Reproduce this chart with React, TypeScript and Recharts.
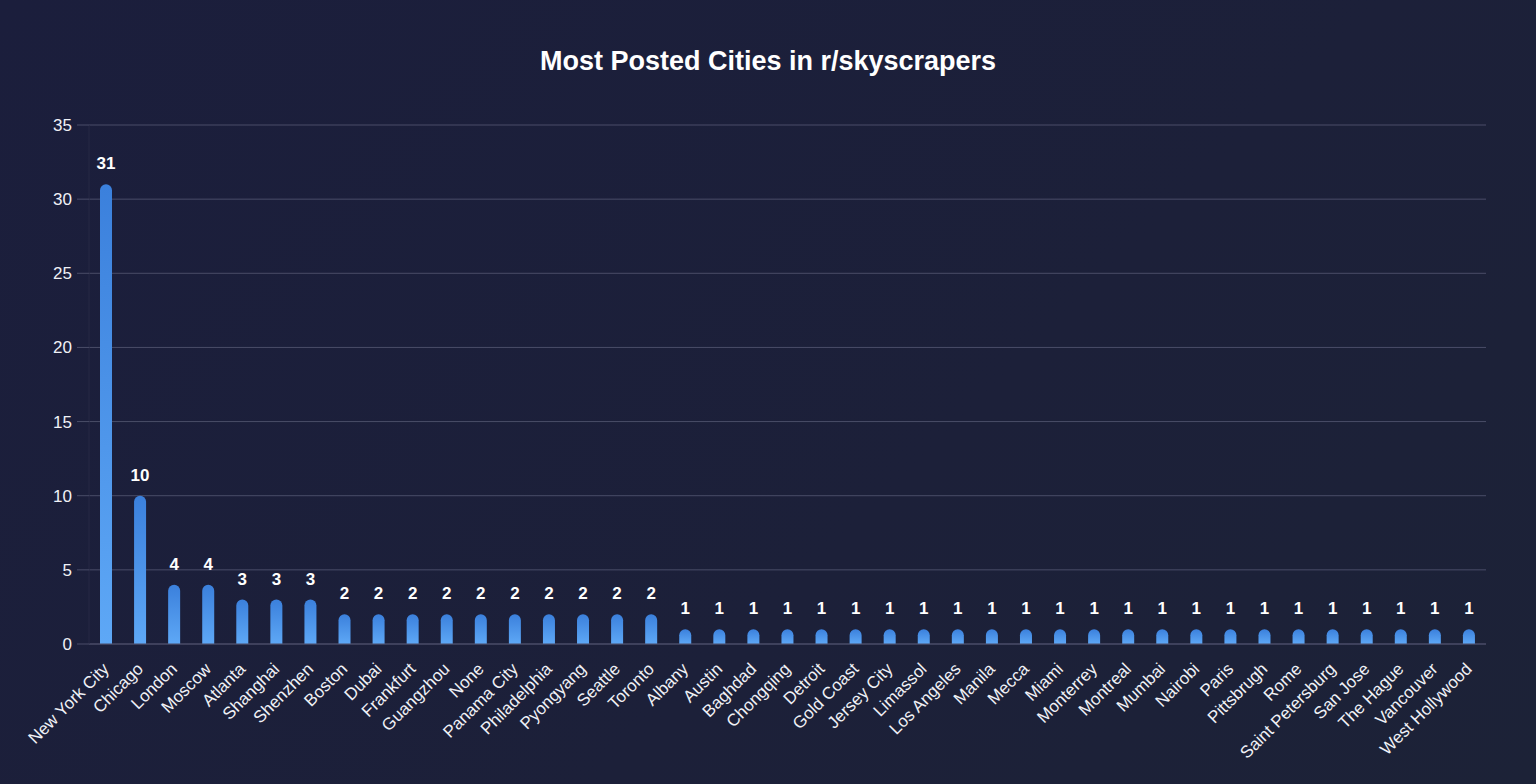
import React from 'react';
import { BarChart, Bar, XAxis, YAxis, CartesianGrid, LabelList } from 'recharts';

const cities = [
  'New York City', 'Chicago', 'London', 'Moscow', 'Atlanta', 'Shanghai', 'Shenzhen',
  'Boston', 'Dubai', 'Frankfurt', 'Guangzhou', 'None', 'Panama City', 'Philadelphia',
  'Pyongyang', 'Seattle', 'Toronto', 'Albany', 'Austin', 'Baghdad', 'Chongqing',
  'Detroit', 'Gold Coast', 'Jersey City', 'Limassol', 'Los Angeles', 'Manila', 'Mecca',
  'Miami', 'Monterrey', 'Montreal', 'Mumbai', 'Nairobi', 'Paris', 'Pittsbrugh', 'Rome',
  'Saint Petersburg', 'San Jose', 'The Hague', 'Vancouver', 'West Hollywood',
];

const postCounts = [
  31, 10, 4, 4, 3, 3, 3,
  2, 2, 2, 2, 2, 2, 2,
  2, 2, 2, 1, 1, 1, 1,
  1, 1, 1, 1, 1, 1, 1,
  1, 1, 1, 1, 1, 1, 1, 1,
  1, 1, 1, 1, 1,
];

const yTicks = [0, 5, 10, 15, 20, 25, 30, 35];

const data = cities.map((city, i) => ({ city, posts: postCounts[i] }));

const FONT = '"Liberation Sans", Arial, Helvetica, sans-serif';

// rotated city names under the bars
const CityTick = (props: any) => {
  const { x, y, payload } = props;
  const ty = y + 18;
  return (
    <text
      x={x + 4}
      y={ty}
      fill="#f0f1f6"
      fontSize={17}
      fontFamily={FONT}
      textAnchor="end"
      transform={`rotate(-45, ${x + 4}, ${ty})`}
    >
      {payload.value}
    </text>
  );
};

const App: React.FC = () => {
  return (
    <div
      style={{
        position: 'fixed',
        left: 0,
        top: 0,
        width: 1536,
        height: 784,
        background: 'linear-gradient(135deg, #1b1e3c 0%, #1c2039 60%, #1c2237 100%)',
        fontFamily: FONT,
      }}
    >
      <div
        style={{
          position: 'absolute',
          top: 46,
          left: 0,
          width: 1536,
          textAlign: 'center',
          color: '#ffffff',
          fontSize: 27,
          fontWeight: 'bold',
        }}
      >
        Most Posted Cities in r/skyscrapers
      </div>
      <div style={{ position: 'absolute', left: 0, top: 0 }}>
        <BarChart
          width={1536}
          height={784}
          data={data}
          margin={{ top: 125, right: 50, bottom: 0, left: 0 }}
        >
          <defs>
            <linearGradient id="barFill" x1="0" y1="0" x2="0" y2="1">
              <stop offset="0%" stopColor="#3b80dc" />
              <stop offset="100%" stopColor="#5ea8f6" />
            </linearGradient>
          </defs>
          <CartesianGrid vertical={false} stroke="#4a4d68" strokeWidth={1} />
          <XAxis
            dataKey="city"
            interval={0}
            height={140}
            tickLine={false}
            axisLine={{ stroke: '#4a4d68' }}
            tick={<CityTick />}
          />
          <YAxis
            width={89}
            domain={[0, 35]}
            ticks={yTicks}
            tickSize={12}
            tickMargin={5}
            tickLine={{ stroke: '#4a4d68' }}
            axisLine={{ stroke: '#262944' }}
            tick={{ fill: '#f0f1f6', fontSize: 17, fontFamily: FONT }}
          />
          <Bar
            dataKey="posts"
            barSize={12}
            fill="url(#barFill)"
            radius={[6, 6, 0, 0]}
            isAnimationActive={false}
          >
            <LabelList
              dataKey="posts"
              position="top"
              offset={15}
              fill="#ffffff"
              fontSize={17}
              fontWeight="bold"
              fontFamily={FONT}
            />
          </Bar>
        </BarChart>
      </div>
    </div>
  );
};

export default App;
